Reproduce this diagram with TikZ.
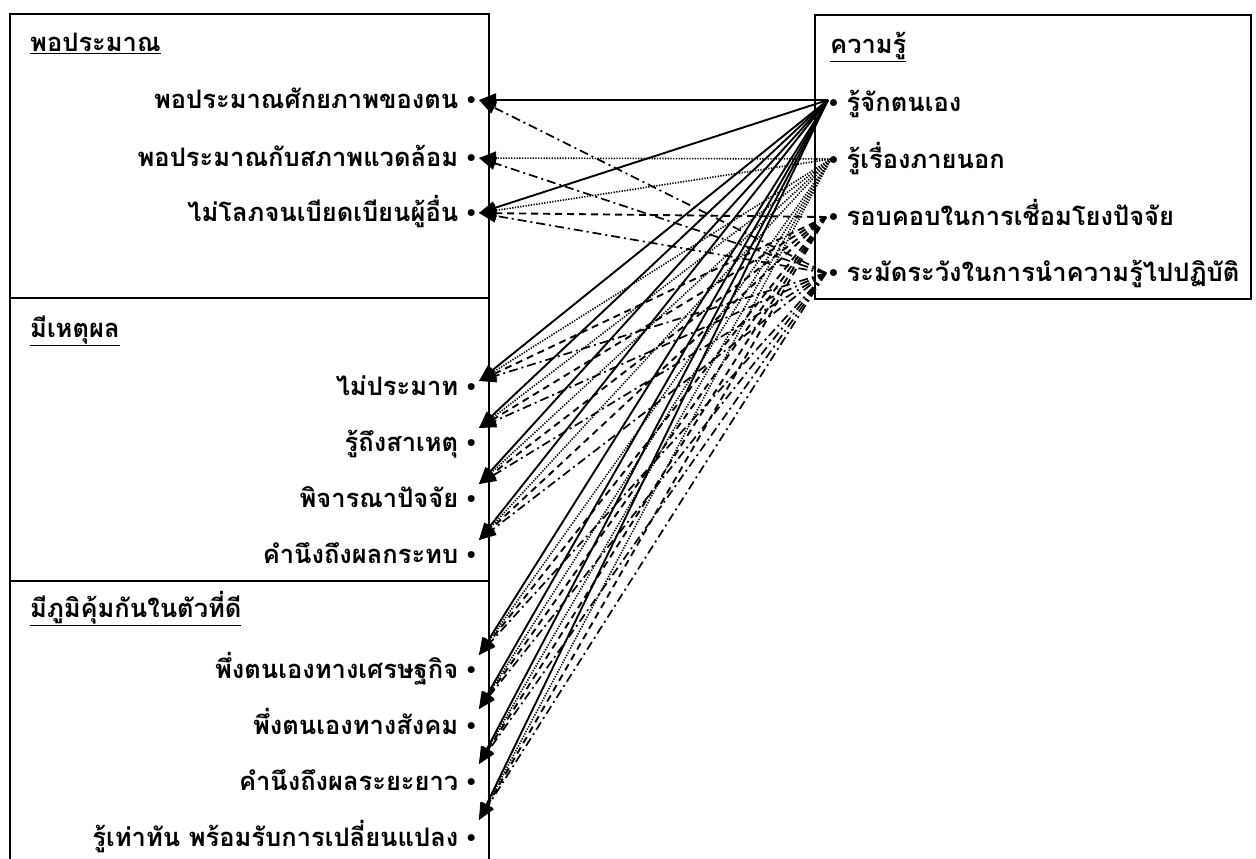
\documentclass[tikz,border=0pt]{standalone}
\usepackage{fontspec}
\newfontfamily\thaifont[Script=Thai]{Loma}
\newfontfamily\dotfont{Liberation Serif}
\usetikzlibrary{arrows.meta}
\newcommand{\bul}{{\dotfont\bfseries\textbullet}}

\begin{document}
\begin{tikzpicture}[
  x=1pt,y=-1pt,
  every node/.style={font=\thaifont\bfseries\fontsize{25.5}{30}\selectfont,inner sep=0pt},
  group/.style={draw,line width=1.6pt},
  head/.style={anchor=base west},
  item/.style={anchor=base east},
  fact/.style={anchor=base west},
  link/.style={-{Triangle[length=17pt,width=13pt]},line width=1.9pt},
  selfk/.style={link},
  outk/.style={link,line width=1.6pt,dash pattern=on 1.3pt off 1.4pt},
  careful/.style={link,dash pattern=on 7pt off 5pt},
  prudent/.style={link,line width=1.7pt,dash pattern=on 9pt off 4pt on 2pt off 4pt}
]
\useasboundingbox (0,0) rectangle (1256,859);
\clip (0,0) rectangle (1256,859);
% groups
\draw[group] (10,14) rectangle (489,298);
\draw[group] (10,298) rectangle (489,581);
\draw[group] (10,581) rectangle (489,900);
\draw[group] (815,15) rectangle (1251,299);
% left side
\node[head] (hp) at (30,52) {\underline{พอประมาณ}};
\node[item] (p1) at (476,108) {พอประมาณศักยภาพของตน \bul};
\node[item] (p2) at (476,166) {พอประมาณกับสภาพแวดล้อม \bul};
\node[item] (p3) at (476,221) {ไม่โลภจนเบียดเบียนผู้อื่น \bul};
\node[head] (hr) at (30,337) {\underline{มีเหตุผล}};
\node[item] (r1) at (476,395) {ไม่ประมาท \bul};
\node[item] (r2) at (476,451) {รู้ถึงสาเหตุ \bul};
\node[item] (r3) at (476,507) {พิจารณาปัจจัย \bul};
\node[item] (r4) at (476,563) {คำนึงถึงผลกระทบ \bul};
\node[head] (hi) at (30,617) {\underline{มีภูมิคุ้มกันในตัวที่ดี}};
\node[item] (i1) at (476,678) {พึ่งตนเองทางเศรษฐกิจ \bul};
\node[item] (i2) at (476,734) {พึ่งตนเองทางสังคม \bul};
\node[item] (i3) at (476,790) {คำนึงถึงผลระยะยาว \bul};
\node[item] (i4) at (476,846) {รู้เท่าทัน พร้อมรับการเปลี่ยนแปลง \bul};
% right side
\node[head] (hk) at (830,54) {\underline{ความรู้}};
\node[fact] (k1) at (829,111) {\bul\ รู้จักตนเอง};
\node[fact] (k2) at (829,168) {\bul\ รู้เรื่องภายนอก};
\node[fact] (k3) at (829,225) {\bul\ รอบคอบในการเชื่อมโยงปัจจัย};
\node[fact] (k4) at (829,281) {\bul\ ระมัดระวังในการนำความรู้ไปปฏิบัติ};
% link ends
\coordinate (ks) at (828,100); \coordinate (ko) at (831,159);
\coordinate (kc) at (826,217); \coordinate (kp) at (826,273);
\coordinate (a1) at (479,100); \coordinate (a2) at (479,158); \coordinate (a3) at (479,213);
\coordinate (b1) at (479,381); \coordinate (b2) at (479,428);
\coordinate (b3) at (479,484); \coordinate (b4) at (479,540);
\coordinate (c1) at (479,655); \coordinate (c2) at (479,709);
\coordinate (c3) at (479,764); \coordinate (c4) at (479,820);
% knowing oneself
\draw[selfk] (ks) -- (a1); \draw[selfk] (ks) -- (a3);
\draw[selfk] (ks) -- (b1); \draw[selfk] (ks) -- (b2);
\draw[selfk] (ks) -- (b3); \draw[selfk] (ks) -- (b4);
\draw[selfk] (ks) -- (c1); \draw[selfk] (ks) -- (c2);
\draw[selfk] (ks) -- (c3); \draw[selfk] (ks) -- (c4);
% knowing outside
\draw[outk] (ko) -- (a2); \draw[outk] (ko) -- (a3);
\draw[outk] (ko) -- (b1); \draw[outk] (ko) -- (b2);
\draw[outk] (ko) -- (b3); \draw[outk] (ko) -- (b4);
\draw[outk] (ko) -- (c1); \draw[outk] (ko) -- (c2);
\draw[outk] (ko) -- (c3); \draw[outk] (ko) -- (c4);
% careful linking
\draw[careful] (kc) -- (a3);
\draw[careful] (kc) -- (b1); \draw[careful] (kc) -- (b2);
\draw[careful] (kc) -- (b3); \draw[careful] (kc) -- (b4);
\draw[careful] (kc) -- (c1); \draw[careful] (kc) -- (c2);
\draw[careful] (kc) -- (c3); \draw[careful] (kc) -- (c4);
% prudent use
\draw[prudent] (kp) -- (a1); \draw[prudent] (kp) -- (a2); \draw[prudent] (kp) -- (a3);
\draw[prudent] (kp) -- (b1); \draw[prudent] (kp) -- (b2);
\draw[prudent] (kp) -- (b3); \draw[prudent] (kp) -- (b4);
\draw[prudent] (kp) -- (c1); \draw[prudent] (kp) -- (c2);
\draw[prudent] (kp) -- (c3); \draw[prudent] (kp) -- (c4);
\end{tikzpicture}
\end{document}
